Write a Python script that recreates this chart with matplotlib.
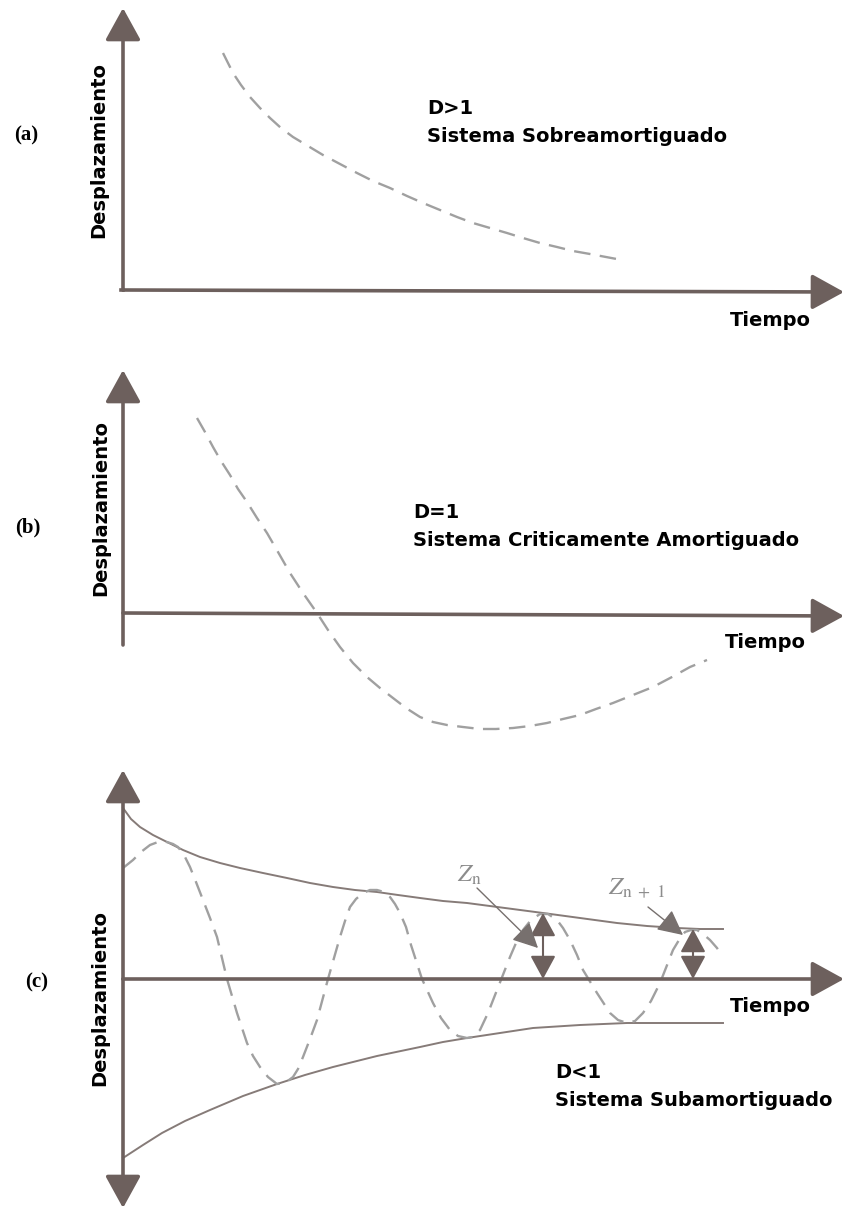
import matplotlib
matplotlib.use("Agg")
import matplotlib.pyplot as plt

plt.rcParams['mathtext.fontset'] = 'stix'

# ---------------- data (time / displacement in drawing units) ----------------
# (a) overdamped
a_t = [100, 105, 110, 118, 127, 137, 147, 158, 170, 185, 200, 217, 234, 250, 267, 284, 300, 317,
       334, 350, 367, 384, 400, 417, 434, 450, 467, 483, 499]
a_d = [237, 227, 217, 205, 193, 182, 172, 162, 153, 144, 135, 126, 117, 109, 102, 94, 87, 80,
       73, 67, 62, 57, 52, 47, 43, 39, 36, 33, 30]

# (b) critically damped
b_t = [74, 82, 90, 98, 107, 115, 124, 134, 144, 155, 167, 180, 194, 205, 217, 230, 244, 257,
       270, 283, 297, 310, 324, 340, 357, 373, 390, 407, 424, 440, 457, 473, 490, 510, 530,
       549, 567, 584]
b_d = [195, 181, 166, 152, 138, 124, 111, 95, 80, 61, 40, 20, 0, -17, -34, -50, -64, -75,
       -85, -95, -104, -109, -112, -114, -116, -116, -115, -113, -110, -106, -102, -96, -90,
       -82, -74, -64, -54, -47]

# (c) underdamped
c_t = [0, 10, 18, 27, 35, 44, 50, 55, 61, 67, 73, 80, 87, 94, 104, 114, 124, 130, 137, 145,
       154, 162, 170, 175, 180, 187, 194, 205, 217, 222, 227, 233, 240, 247, 254, 261, 267,
       272, 277, 283, 288, 299, 310, 318, 327, 335, 344, 350, 357, 365, 374, 387, 393, 400,
       408, 417, 425, 434, 440, 447, 454, 460, 474, 487, 495, 504, 512, 520, 528, 537, 550,
       556, 562, 568, 574, 580, 587, 594, 600]
c_d = [111, 119, 127, 134, 137, 137, 135, 132, 124, 112, 97, 79, 61, 42, 0, -34, -64, -77,
       -88, -98, -105, -104, -98, -90, -78, -60, -41, 0, 42, 58, 72, 80, 86, 89, 89, 87, 82,
       75, 66, 52, 34, 0, -24, -39, -51, -57, -59, -58, -51, -34, -11, 22, 36, 49, 59, 65,
       65, 59, 51, 39, 24, 9, -14, -34, -41, -44, -42, -34, -22, -4, 29, 39, 47, 49, 49, 45,
       39, 31, 22]

up_t = [0, 8, 17, 30, 44, 60, 77, 97, 117, 140, 164, 187, 210, 232, 254, 275, 297, 320,
        344, 382, 420, 457, 494, 524, 554, 577, 600]
up_d = [171, 160, 152, 144, 137, 129, 122, 116, 111, 106, 101, 96, 92, 89, 87, 84, 81, 78,
        76, 71, 66, 61, 56, 53, 51, 50, 50]

lo_t = [0, 20, 39, 62, 87, 120, 154, 182, 210, 254, 297, 320, 344, 377, 410, 457, 504, 550, 600]
lo_d = [-179, -166, -154, -142, -131, -117, -105, -96, -88, -77, -68, -63, -59, -54, -49,
        -46, -44, -44, -44]

zn_t, zn_d = 420, 66
zn1_t, zn1_d = 570, 50

# ---------------- styling ----------------
W, H = 845, 1209
AXC = '#6d605d'
ENVC = '#867b78'
DASHC = '#a0a0a0'
TXT = dict(fontsize=14, fontweight='bold', family='DejaVu Sans', color='black')
SER = dict(fontsize=15, fontweight='bold', family='Liberation Serif', color='black')

fig = plt.figure(figsize=(W / 100, H / 100), dpi=100)
fig.patch.set_facecolor('white')


def make_ax(top_px, bot_px, y0_px):
    ax = fig.add_axes([0, 1 - bot_px / H, 1, (bot_px - top_px) / H])
    ax.set_xlim(-123, W - 123)
    ax.set_ylim(y0_px - bot_px, y0_px - top_px)
    ax.axis('off')
    return ax


def arrow(ax, start, tip, lw=2.6, color=AXC, hl=1.0, hw=0.55, ms=20, style='-|>'):
    ax.annotate('', xy=tip, xytext=start,
                arrowprops=dict(arrowstyle=f'{style},head_length={hl},head_width={hw}',
                                lw=lw, color=color, shrinkA=0, shrinkB=0,
                                mutation_scale=ms))


dash_kw = dict(color=DASHC, lw=1.7, dashes=(7, 4), solid_joinstyle='round',
               dash_capstyle='butt')

# ---------------- panel (a) ----------------
ax = make_ax(0, 340, 290)
arrow(ax, (0, 0), (0, 282))
ax.plot([-1.5, 0], [0, 0], color=AXC, lw=2.6)
arrow(ax, (0, 0), (721, -2))
ax.plot(a_t, a_d, **dash_kw)
ax.text(304, 182, 'D>1', va='center', ha='left', **TXT)
ax.text(304, 154, 'Sistema Sobreamortiguado', va='center', ha='left', **TXT)
ax.text(607, -30, 'Tiempo', va='center', ha='left', **TXT)
ax.text(-24, 140, 'Desplazamiento', rotation=90, va='center', ha='center', **TXT)
ax.text(-97, 155, '(a)', va='center', ha='center', **SER)

# ---------------- panel (b) ----------------
ax = make_ax(360, 760, 613)
arrow(ax, (0, -32), (0, 243))
arrow(ax, (0, 0), (721, -3))
ax.plot(b_t, b_d, **dash_kw)
ax.text(290, 101, 'D=1', va='center', ha='left', **TXT)
ax.text(290, 73, 'Sistema Criticamente Amortiguado', va='center', ha='left', **TXT)
ax.text(602, -29, 'Tiempo', va='center', ha='left', **TXT)
ax.text(-22, 105, 'Desplazamiento', rotation=90, va='center', ha='center', **TXT)
ax.text(-95, 86, '(b)', va='center', ha='center', **SER)

# ---------------- panel (c) ----------------
ax = make_ax(760, 1209, 979)
arrow(ax, (0, 0), (0, 209))
arrow(ax, (0, 0), (0, -229))
arrow(ax, (0, 0), (721, 0))
ax.plot(up_t, up_d, color=ENVC, lw=1.4)
ax.plot(lo_t, lo_d, color=ENVC, lw=1.4)
ax.plot(c_t, c_d, **dash_kw)

# amplitude markers
arrow(ax, (zn_t, zn_d / 2), (zn_t, zn_d), lw=1.5, hl=1.2, hw=0.65, ms=12)
arrow(ax, (zn_t, zn_d / 2), (zn_t, 0), lw=1.5, hl=1.2, hw=0.65, ms=12)
arrow(ax, (zn1_t, zn1_d / 2), (zn1_t, zn1_d), lw=1.5, hl=1.2, hw=0.65, ms=12)
arrow(ax, (zn1_t, zn1_d / 2), (zn1_t, 0), lw=1.5, hl=1.2, hw=0.65, ms=12)
arrow(ax, (354, 91), (415, 31), lw=1.0, color='#77706e', hl=1.3, hw=0.65, ms=12)
arrow(ax, (525, 72), (560, 44), lw=1.0, color='#77706e', hl=1.3, hw=0.65, ms=12)
ax.text(346, 104, r'$Z_{\mathrm{n}}$', fontsize=18, color='#8c8c8c', ha='center', va='center')
ax.text(485, 91, r'$Z_{\mathrm{n\ +\ 1}}$', fontsize=18, color='#8c8c8c', ha='left', va='center')

ax.text(432, -94, 'D<1', va='center', ha='left', **TXT)
ax.text(432, -121, 'Sistema Subamortiguado', va='center', ha='left', **TXT)
ax.text(607, -28, 'Tiempo', va='center', ha='left', **TXT)
ax.text(-23, -19, 'Desplazamiento', rotation=90, va='center', ha='center', **TXT)
ax.text(-86, -3, '(c)', va='center', ha='center', **SER)

fig.savefig('out.png', dpi=100, facecolor='white')
